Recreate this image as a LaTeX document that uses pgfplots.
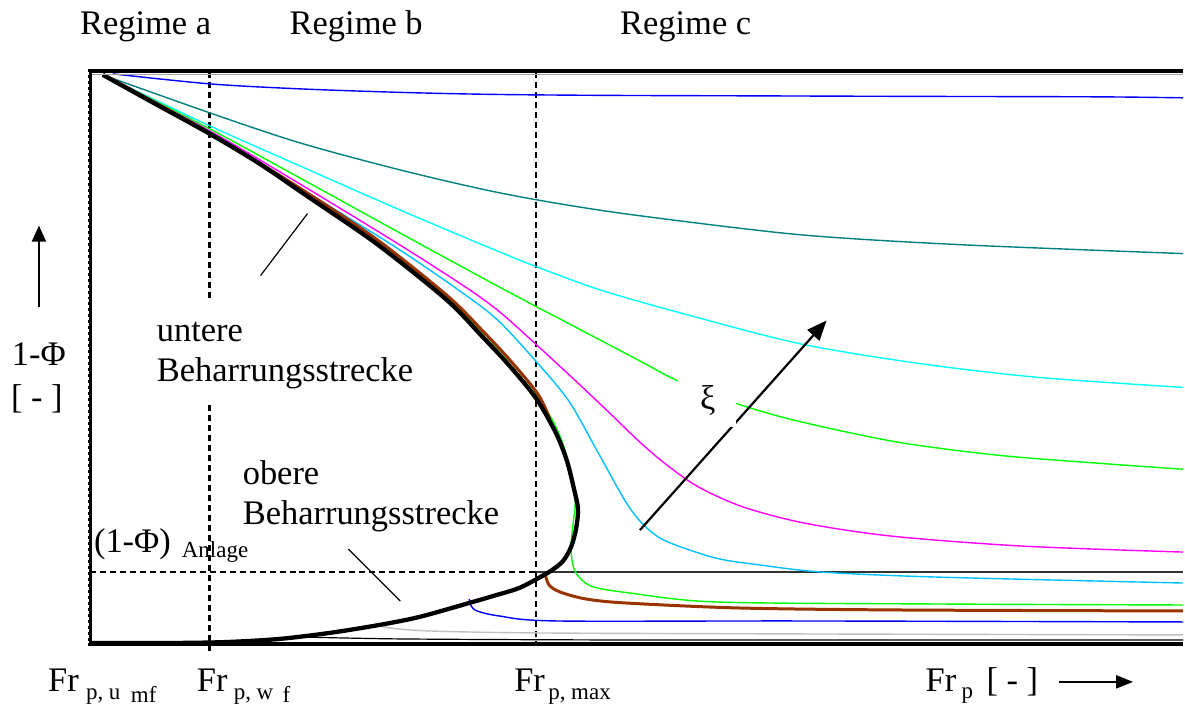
\documentclass[border=0pt]{standalone}
\usepackage{pgfplots}
\pgfplotsset{compat=1.18}
\usepackage{fontspec}
\setmainfont{Liberation Serif}
\usetikzlibrary{arrows.meta}
\newcommand\bigf{\fontsize{34.5}{40}\selectfont}
\newcommand\subf{\fontsize{23}{26}\selectfont}
\definecolor{teal1}{HTML}{008080}
\definecolor{cyan1}{HTML}{00FFFF}
\definecolor{green1}{HTML}{00FF00}
\definecolor{mag1}{HTML}{FF00FF}
\definecolor{sky1}{HTML}{00C0FF}
\definecolor{brown1}{HTML}{993300}
\definecolor{blue1}{HTML}{0000FF}
\definecolor{silver1}{HTML}{C0C0C0}
\begin{document}
\begin{tikzpicture}
\begin{axis}[
  x=1pt, y=1pt, y dir=reverse,
  xmin=90, xmax=1185, ymin=72, ymax=644,
  axis lines=none, clip=false, ticks=none,
]
% bounding box of the whole picture
\path (axis cs:0,0) rectangle (axis cs:1185,707);

% reference lines
\tikzset{refdash/.style={line width=2.4pt, dash pattern=on 6pt off 4pt}}
\draw[refdash] (axis cs:210,72) -- (axis cs:210,299);
\draw[refdash] (axis cs:210,406) -- (axis cs:210,652);
\draw[refdash] (axis cs:537,72) -- (axis cs:537,644);
\draw[refdash] (axis cs:90,573) -- (axis cs:537,573);
\draw[line width=1.3pt, black!80] (axis cs:537,573) -- (axis cs:1185,573);

% curves
\addplot[blue1, line width=1.4pt, smooth] coordinates {(113,74) (210,84) (300,89) (400,92.5) (490,94.5) (600,95.5) (750,96) (900,96.5) (1100,97) (1185,98)};
\addplot[teal1, line width=1.4pt, smooth] coordinates {(103,75) (210,113) (300,143) (400,170) (490,191) (560,204) (640,216) (800,235) (960,245) (1185,254)};
\addplot[cyan1, line width=1.4pt, smooth] coordinates {(103,75) (210,126) (300,166) (400,210) (490,248) (537,267) (600,290) (680,313) (800,344) (920,364) (1040,378) (1185,388)};
\addplot[green1, line width=1.4pt, smooth] coordinates {(103,75) (210,129) (300,178) (400,233) (490,282) (537,307) (560,319) (640,361) (680,382) (737,404) (800,422) (900,443) (1000,456) (1100,464) (1185,470)};
\addplot[mag1, line width=1.4pt, smooth] coordinates {(103,75) (210,131) (300,184) (400,245) (467,288) (500,312) (537,345) (575,380) (612,415) (640,442) (667,465) (700,488) (745,508) (806,524) (893,537) (1024,547) (1185,553)};
\addplot[sky1, line width=1.4pt, smooth] coordinates {(103,75) (210,132) (300,188) (400,250) (467,296) (500,322) (537,362) (570,402) (600,455) (627,503) (645,526) (667,542) (717,559) (762,566) (823,573) (937,578) (1185,584)};
\addplot[green1, line width=1.4pt, smooth] coordinates {(103,75) (210,134) (307,194) (377,241) (447,297) (510,361) (537,394) (557,428) (568,458) (576,500) (574,525) (572,550) (576,572) (592,587) (631,594) (718,603) (937,605) (1185,606)};
\addplot[silver1, line width=1.4pt, smooth] coordinates {(378,626) (390,629) (430,632) (537,634) (800,635) (1185,636)};
\addplot[black, line width=1.2pt, smooth] coordinates {(300,638) (400,640) (600,641) (800,641) (1185,641)};
\addplot[blue1, line width=1.4pt, smooth] coordinates {(470,600) (472,607) (478,612) (500,617) (557,622) (800,622) (1185,623)};
\addplot[brown1, line width=3pt, smooth] coordinates {(104,75) (210,133) (309,194) (379,241) (449,297) (485,333) (512,362) (539,395) (551,420)};
\addplot[brown1, line width=3pt, smooth] coordinates {(546,575) (550,586) (561,593) (587,600) (627,604) (740,609) (900,611) (1185,612)};
% main S-curve
\addplot[black, line width=4.3pt, smooth, tension=0.5] coordinates {(103,75) (150,101) (210,134) (260,164) (307,196) (377,244) (447,300) (483,337) (510,366) (537,399) (557,434) (568,462) (575,490) (579,510) (577,530) (572,548) (564,562) (553,571) (543,577) (520,589) (494,597) (470,604) (420,618) (380,626) (330,634) (280,640) (230,643) (180,644) (90,644)};

% frame
\draw[line width=4pt] (axis cs:88,71) -- (axis cs:1185,71);
\draw[line width=0.8pt, black!35] (axis cs:90,74.5) -- (axis cs:1185,74.5);
\draw[line width=4pt] (axis cs:88,645) -- (axis cs:1185,645);
\draw[line width=4pt] (axis cs:90,69) -- (axis cs:90,647);
\draw[line width=0.8pt, white, dash pattern=on 3pt off 3pt] (axis cs:88.3,72) -- (axis cs:88.3,644);

% xi arrow
\draw[line width=2.2pt, -{Triangle[length=20pt, width=16pt]}] (axis cs:641,531) -- (axis cs:828,321);
\fill[white] (axis cs:679,377) rectangle (axis cs:737,428);
\node[anchor=base, inner sep=0] at (axis cs:709,410) {\bigf ξ};

% leader lines
\draw[line width=1.2pt] (axis cs:261,276) -- (axis cs:308,214);
\draw[line width=1.2pt] (axis cs:349,550) -- (axis cs:401,602);

% texts
\node[anchor=base west, inner sep=0] at (axis cs:80,35) {\bigf Regime a};
\node[anchor=base west, inner sep=0] at (axis cs:290,35) {\bigf Regime b};
\node[anchor=base west, inner sep=0] at (axis cs:621,35) {\bigf Regime c};
\node[anchor=base west, inner sep=0] at (axis cs:157,342) {\bigf untere};
\node[anchor=base west, inner sep=0] at (axis cs:157,382) {\bigf Beharrungsstrecke};
\node[anchor=base west, inner sep=0] at (axis cs:243,485) {\bigf obere};
\node[anchor=base west, inner sep=0] at (axis cs:243,525) {\bigf Beharrungsstrecke};
\node[anchor=base west, inner sep=0] at (axis cs:94,553) {\bigf (1-Φ)};
\node[anchor=base west, inner sep=0] at (axis cs:182,558) {\subf Anlage};

% y label
\draw[line width=2pt, -{Triangle[length=16pt, width=14pt]}] (axis cs:39,308) -- (axis cs:39,226);
\node[anchor=base, inner sep=0] at (axis cs:39,366) {\bigf 1-Φ};
\node[anchor=base, inner sep=0] at (axis cs:37,409) {\bigf [ - ]};

% x labels
\node[anchor=base west, inner sep=0] at (axis cs:48,693) {\bigf Fr};
\node[anchor=base west, inner sep=0] at (axis cs:86,701) {\subf p, u};
\node[anchor=base west, inner sep=0] at (axis cs:131,704) {\subf mf};
\node[anchor=base west, inner sep=0] at (axis cs:197,693) {\bigf Fr};
\node[anchor=base west, inner sep=0] at (axis cs:234,701) {\subf p, w};
\node[anchor=base west, inner sep=0] at (axis cs:283,704) {\subf f};
\node[anchor=base west, inner sep=0] at (axis cs:515,693) {\bigf Fr};
\node[anchor=base west, inner sep=0] at (axis cs:549,701) {\subf p, max};
\node[anchor=base west, inner sep=0] at (axis cs:927,693) {\bigf Fr};
\node[anchor=base west, inner sep=0] at (axis cs:963,700) {\subf p};
\node[anchor=base west, inner sep=0] at (axis cs:988,693) {\bigf [ - ]};
\draw[line width=2pt, -{Triangle[length=17pt, width=13pt]}] (axis cs:1061,683) -- (axis cs:1135,683);
\end{axis}
\end{tikzpicture}
\end{document}
